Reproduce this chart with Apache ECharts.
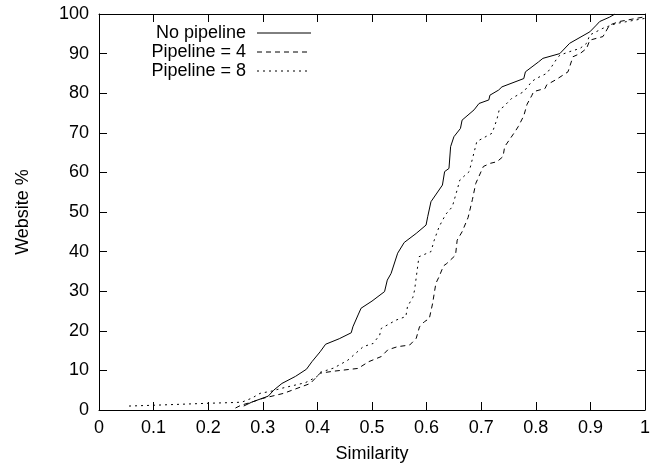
<!DOCTYPE html>
<html>
<head>
<meta charset="utf-8">
<script src="https://cdn.jsdelivr.net/npm/echarts/dist/echarts.min.js"></script>
<style>
html,body{margin:0;padding:0;background:#fff;}
#chart{width:653px;height:469px;}
</style>
</head>
<body>
<div id="chart"></div>
<script>
// [similarity, website %]
var noPipeline = [
  [0.265,1.0],[0.28,2.0],[0.30,3.0],[0.31,3.5],[0.32,5.0],[0.335,6.7],[0.36,8.5],[0.38,10.3],
  [0.39,12.2],[0.405,14.7],[0.415,16.6],[0.44,18.0],[0.462,19.5],[0.465,21.0],[0.4745,24.0],
  [0.48,25.7],[0.50,27.5],[0.523,29.9],[0.528,32.8],[0.535,34.5],[0.547,39.6],[0.559,42.3],
  [0.581,44.6],[0.599,46.7],[0.602,48.8],[0.608,52.6],[0.629,56.8],[0.633,60.2],[0.641,61.0],
  [0.644,66.5],[0.65,69.0],[0.662,71.1],[0.665,73.2],[0.687,75.8],[0.696,77.4],[0.714,78.3],
  [0.716,79.5],[0.732,80.8],[0.738,81.6],[0.778,83.7],[0.781,85.4],[0.805,87.9],[0.813,88.8],
  [0.844,90.0],[0.862,92.6],[0.899,95.5],[0.911,97.2],[0.917,98.1],[0.935,99.2],[0.945,100]
];
var pipeline4 = [
  [0.25,0.5],[0.26,1.2],[0.28,2.0],[0.299,2.9],[0.338,4.2],[0.387,6.7],[0.405,9.3],[0.43,9.8],
  [0.4745,10.5],[0.494,12.2],[0.517,13.5],[0.529,15.2],[0.547,16.0],[0.569,16.4],[0.581,18.1],
  [0.587,21.0],[0.596,22.3],[0.605,23.1],[0.611,26.9],[0.617,32.0],[0.623,33.7],[0.631,36.4],
  [0.637,37.0],[0.653,39.1],[0.656,42.9],[0.665,45.0],[0.676,48.6],[0.684,53.2],[0.69,57.2],
  [0.704,61.5],[0.717,62.3],[0.729,62.7],[0.74,64.0],[0.743,66.5],[0.762,70.3],[0.768,71.6],
  [0.778,74.3],[0.784,77.2],[0.793,79.5],[0.796,80.4],[0.817,81.2],[0.82,82.1],[0.838,83.5],
  [0.859,85.4],[0.868,89.2],[0.881,90.0],[0.893,91.3],[0.899,93.4],[0.923,94.3],[0.935,97.2],
  [0.953,98.1],[1.0,99.3]
];
var pipeline8 = [
  [0.055,1.0],[0.1,1.2],[0.2,1.7],[0.25,1.9],[0.262,2.0],[0.28,3.0],[0.295,4.2],[0.317,4.8],
  [0.335,5.5],[0.378,6.9],[0.399,8.4],[0.405,9.5],[0.43,10.6],[0.456,12.6],[0.484,16.0],
  [0.502,16.8],[0.514,18.9],[0.517,20.6],[0.544,22.7],[0.562,23.6],[0.565,26.1],[0.575,28.5],
  [0.578,30.3],[0.586,38.7],[0.608,40.0],[0.614,42.9],[0.623,46.3],[0.635,49.4],[0.647,51.3],
  [0.656,55.6],[0.661,58.1],[0.678,60.2],[0.692,67.8],[0.72,69.9],[0.729,73.5],[0.733,75.8],
  [0.741,76.6],[0.756,78.7],[0.778,80.4],[0.793,83.0],[0.802,83.8],[0.82,85.0],[0.829,86.7],
  [0.838,88.6],[0.844,89.6],[0.862,90.5],[0.881,91.3],[0.893,92.6],[0.899,94.7],[0.923,96.4],
  [0.947,97.6],[1.0,98.9]
];
var seriesNames = ['No pipeline', 'Pipeline = 4', 'Pipeline = 8'];
var xTickLabels = ['0','0.1','0.2','0.3','0.4','0.5','0.6','0.7','0.8','0.9','1'];
var yTickLabels = ['0','10','20','30','40','50','60','70','80','90','100'];

var FONT = '"Liberation Sans", Arial, Helvetica, sans-serif';
var FS = 18;
var dashStyles = ['solid', [5,4], [2,4]];
var datasets = [noPipeline, pipeline4, pipeline8];

var chart = echarts.init(document.getElementById('chart'), null, {renderer: 'canvas'});

var axisCommon = {
  min: 0,
  axisLine: {show: true, onZero: false, lineStyle: {color: '#000', width: 1}},
  axisTick: {show: true, inside: true, length: 8, lineStyle: {color: '#000', width: 1}},
  splitLine: {show: false}
};

var legendGraphics = [];
var legendRows = [33, 52, 71];
seriesNames.forEach(function (n, i) {
  legendGraphics.push({
    type: 'text', x: 246, y: legendRows[i],
    style: {text: n, textAlign: 'right', textVerticalAlign: 'middle', font: FS + 'px ' + FONT, fill: '#000'}
  });
  legendGraphics.push({
    type: 'line', shape: {x1: 257, y1: legendRows[i], x2: 311, y2: legendRows[i]},
    style: {stroke: '#000', lineWidth: 1, lineDash: dashStyles[i] === 'solid' ? null : dashStyles[i]}
  });
});

var option = {
  animation: false,
  backgroundColor: '#fff',
  textStyle: {fontFamily: FONT},
  grid: {left: 99, right: 4, top: 14, bottom: 59, containLabel: false},
  xAxis: [
    Object.assign({}, axisCommon, {
      type: 'value', position: 'bottom', max: 1, interval: 0.1,
      axisLabel: {show: true, color: '#000', fontSize: FS, fontFamily: FONT, margin: 9,
        formatter: function (v) { return xTickLabels[Math.round(v * 10)]; }},
      name: 'Similarity', nameLocation: 'middle', nameGap: 35,
      nameTextStyle: {color: '#000', fontSize: FS, fontFamily: FONT}
    }),
    Object.assign({}, axisCommon, {
      type: 'value', position: 'top', max: 1, interval: 0.1,
      axisLabel: {show: false}
    })
  ],
  yAxis: [
    Object.assign({}, axisCommon, {
      type: 'value', position: 'left', max: 100, interval: 10,
      axisLabel: {show: true, color: '#000', fontSize: FS, fontFamily: FONT, margin: 10,
        formatter: function (v) { return yTickLabels[Math.round(v / 10)]; }},
      name: 'Website %', nameLocation: 'middle', nameGap: 67, nameRotate: 90,
      nameTextStyle: {color: '#000', fontSize: FS, fontFamily: FONT}
    }),
    Object.assign({}, axisCommon, {
      type: 'value', position: 'right', max: 100, interval: 10,
      axisLabel: {show: false}
    })
  ],
  series: seriesNames.map(function (n, i) {
    return {
      name: n, type: 'line', xAxisIndex: 0, yAxisIndex: 0,
      data: datasets[i], showSymbol: false, symbol: 'none', smooth: false,
      lineStyle: {color: '#000', width: 1, type: dashStyles[i]},
      silent: true, z: 3
    };
  }),
  graphic: legendGraphics
};
chart.setOption(option);
</script>
</body>
</html>
